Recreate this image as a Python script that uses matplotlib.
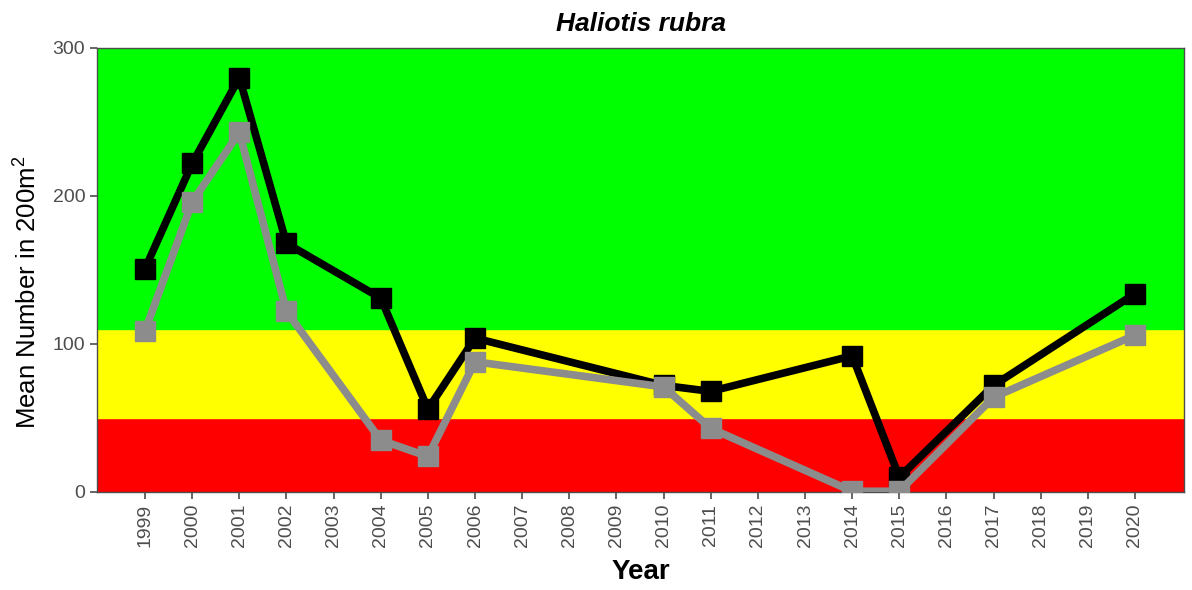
import numpy as np
import matplotlib.pyplot as plt

plt.rcParams['font.family'] = ['Liberation Sans', 'DejaVu Sans']

# Datos
years = [1999, 2000, 2001, 2002, 2004, 2005, 2006, 2010, 2011, 2014, 2015, 2017, 2020]
total = [151, 222, 280, 168, 131, 56, 104, 72, 68, 92, 10, 72, 134]
legal = [109, 196, 243, 122, 35, 24, 88, 71, 43, 0.5, 0.5, 64, 106]
tick_years = list(range(1999, 2021))

# Bandas de referencia
band_red = (0, 50)
band_yellow = (50, 110)
band_green = (110, 300)

fig = plt.figure(figsize=(11.92, 5.90), dpi=100)
ax = fig.add_axes([97/1192, 1 - 492/590, (1184-97)/1192, (492-48)/590])

ax.axhspan(*band_red, color="#ff0000", zorder=0)
ax.axhspan(*band_yellow, color="#ffff00", zorder=0)
ax.axhspan(*band_green, color="#00ff00", zorder=0)

ax.plot(years, total, color="black", lw=5.5, marker="s", ms=14, zorder=3)
ax.plot(years, legal, color="#8c8c8c", lw=5.5, marker="s", ms=14, zorder=4)

ax.set_xlim(1997.98, 2021.04)
ax.set_ylim(0, 300)
ax.set_xticks(tick_years)
ax.set_xticklabels([str(y) for y in tick_years], rotation=90)
ax.set_yticks([0, 100, 200, 300])
ax.tick_params(colors="#4d4d4d", labelsize=14, length=5, width=1.2)
for s in ax.spines.values():
    s.set_color("#4d4d4d")
    s.set_linewidth(1)

ax.set_title("Haliotis rubra", fontsize=19, fontweight="bold", fontstyle="italic", pad=12)
ax.set_xlabel("Year", fontsize=20, fontweight="bold", labelpad=8)
ax.set_ylabel("Mean Number in 200m$^\\mathregular{2}$", fontsize=18.5)
ax.yaxis.set_label_coords(-0.052, 0.45)

fig.savefig("out.png", dpi=100)
